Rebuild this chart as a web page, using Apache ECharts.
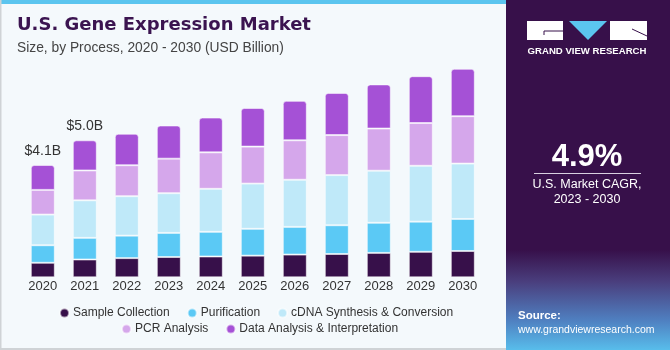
<!DOCTYPE html>
<html>
<head>
<meta charset="utf-8">
<script src="https://cdn.jsdelivr.net/npm/echarts@6/dist/echarts.min.js"></script>
<style>
  html, body { margin: 0; padding: 0; background: #f4f9fc; }
  #chart { width: 670px; height: 350px; }
</style>
</head>
<body>
<div id="chart"></div>
<script>
const years = ['2020', '2021', '2022', '2023', '2024', '2025', '2026', '2027', '2028', '2029', '2030']
const sampleCollection = [0.53, 0.65, 0.70, 0.74, 0.76, 0.79, 0.83, 0.85, 0.89, 0.93, 0.96]
const purification = [0.64, 0.79, 0.82, 0.88, 0.90, 0.98, 1.01, 1.05, 1.10, 1.10, 1.17]
const cdnaSynthesis = [1.12, 1.37, 1.44, 1.45, 1.57, 1.65, 1.72, 1.83, 1.90, 2.04, 2.02]
const pcrAnalysis = [0.90, 1.09, 1.13, 1.26, 1.33, 1.35, 1.44, 1.46, 1.54, 1.56, 1.73]
const dataAnalysis = [0.91, 1.10, 1.15, 1.21, 1.27, 1.41, 1.44, 1.54, 1.61, 1.71, 1.73]
const totalLabels = ['$4.1B', '$5.0B', '', '', '', '', '', '', '', '', '']

const seriesNames = ['Sample Collection', 'Purification', 'cDNA Synthesis & Conversion', 'PCR Analysis', 'Data Analysis & Interpretation']
const seriesColors = ['#37104a', '#5bc9f5', '#bfe9f9', '#d5a7eb', '#a551d6']
const seriesData = [sampleCollection, purification, cdnaSynthesis, pcrAnalysis, dataAnalysis]

const font = '"Liberation Sans", Arial, sans-serif'
const chart = echarts.init(document.getElementById('chart'))

const series = seriesData.map((d, i) => {
  const last = i === seriesData.length - 1
  return {
    name: seriesNames[i],
    type: 'bar',
    stack: 'total',
    barWidth: 24,
    data: d,
    itemStyle: {
      color: seriesColors[i],
      borderColor: 'rgba(255,255,255,0.55)',
      borderWidth: 1,
      borderRadius: last ? [3, 3, 0, 0] : 0,
    },
    label: last ? {
      show: true,
      position: 'top',
      distance: 7,
      formatter: (p) => totalLabels[p.dataIndex],
      color: '#333',
      fontSize: 14,
      fontFamily: font,
    } : { show: false },
  }
})

const legendBase = {
  icon: 'circle',
  itemWidth: 9,
  itemHeight: 9,
  itemGap: 17,
  textStyle: { color: '#333', fontSize: 12, fontFamily: font, padding: [0, 0, 0, -1] },
  selectedMode: false,
}

chart.setOption({
  backgroundColor: '#f4f9fc',
  animation: false,
  grid: { left: 21.8, right: 186.2, top: 58.1, bottom: 72.7 },
  xAxis: {
    type: 'category',
    data: years,
    axisLine: { show: false },
    axisTick: { show: false },
    axisLabel: { color: '#333', fontSize: 13, fontFamily: font, margin: 3 },
  },
  yAxis: { type: 'value', min: 0, max: 8, show: false, splitLine: { show: false } },
  legend: [
    Object.assign({}, legendBase, { data: seriesNames.slice(0, 3), left: 54, top: 302 }),
    Object.assign({}, legendBase, { data: seriesNames.slice(3), left: 116, top: 318 }),
  ],
  series,
  graphic: [
    { type: 'rect', shape: { x: 0, y: 0, width: 506, height: 4 }, style: { fill: '#5bc5ef' }, z: 10 },
    { type: 'rect', shape: { x: 0, y: 0, width: 1.5, height: 350 }, style: { fill: '#cfd3d6' }, z: 10 },
    { type: 'rect', shape: { x: 0, y: 348, width: 506, height: 2 }, style: { fill: '#cfd3d6' }, z: 10 },
    {
      type: 'text', left: 17, top: 16,
      style: { text: 'U.S. Gene Expression Market', fill: '#3b1450', font: 'bold 18px "DejaVu Sans", sans-serif' },
    },
    {
      type: 'text', left: 17, top: 41,
      style: { text: 'Size, by Process, 2020 - 2030 (USD Billion)', fill: '#444', font: '13.8px ' + font },
    },
    // right panel
    { type: 'rect', shape: { x: 506, y: 0, width: 164, height: 350 }, style: { fill: '#37104a' }, z: 10 },
    {
      type: 'rect', shape: { x: 506, y: 250, width: 164, height: 100 }, z: 10,
      style: {
        fill: new echarts.graphic.LinearGradient(0, 0, 0, 1, [
          { offset: 0, color: '#37104a' },
          { offset: 0.32, color: '#4a3f7e' },
          { offset: 0.7, color: '#4f7fc0' },
          { offset: 1, color: '#58bdeb' },
        ]),
      },
    },
    { type: 'rect', shape: { x: 527, y: 21, width: 36, height: 19 }, style: { fill: '#ffffff' }, z: 11 },
    { type: 'polyline', shape: { points: [[544, 31], [563, 31]] }, style: { stroke: '#37104a', lineWidth: 1 }, z: 12 },
    { type: 'polyline', shape: { points: [[544, 31], [544, 35]] }, style: { stroke: '#37104a', lineWidth: 1 }, z: 12 },
    { type: 'polygon', shape: { points: [[569, 21], [607, 21], [588, 40]] }, style: { fill: '#5bc5ef' }, z: 11 },
    { type: 'rect', shape: { x: 610, y: 21, width: 37, height: 19 }, style: { fill: '#ffffff' }, z: 11 },
    { type: 'polyline', shape: { points: [[632, 29], [647, 36]] }, style: { stroke: '#37104a', lineWidth: 1 }, z: 12 },
    {
      type: 'text', x: 587, y: 51, z: 11,
      style: { text: 'GRAND VIEW RESEARCH', fill: '#ffffff', font: 'bold 9.6px ' + font, align: 'center', verticalAlign: 'middle' },
    },
    {
      type: 'text', x: 587, y: 157, z: 11,
      style: { text: '4.9%', fill: '#ffffff', font: 'bold 31px ' + font, align: 'center', verticalAlign: 'middle' },
    },
    { type: 'rect', shape: { x: 534, y: 173, width: 107, height: 1 }, style: { fill: '#d8d0e0' }, z: 11 },
    {
      type: 'text', x: 587, y: 185, z: 11,
      style: { text: 'U.S. Market CAGR,', fill: '#ffffff', font: '12.5px ' + font, align: 'center', verticalAlign: 'middle' },
    },
    {
      type: 'text', x: 587, y: 200, z: 11,
      style: { text: '2023 - 2030', fill: '#ffffff', font: '12.5px ' + font, align: 'center', verticalAlign: 'middle' },
    },
    {
      type: 'text', x: 518, y: 316, z: 11,
      style: { text: 'Source:', fill: '#ffffff', font: 'bold 11.5px ' + font, verticalAlign: 'middle' },
    },
    {
      type: 'text', x: 518, y: 330, z: 11,
      style: { text: 'www.grandviewresearch.com', fill: '#ffffff', font: '10.5px ' + font, verticalAlign: 'middle' },
    },
  ],
})
</script>
</body>
</html>
